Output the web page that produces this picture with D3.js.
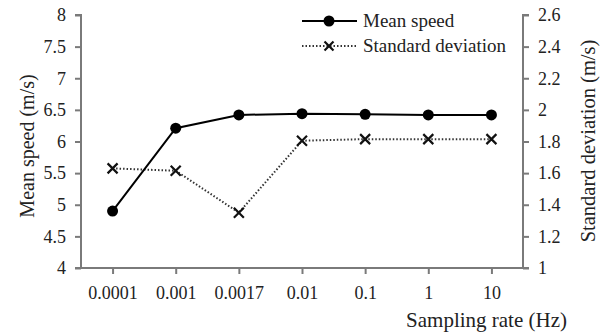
<!DOCTYPE html>
<html>
<head>
<meta charset="utf-8">
<script src="https://cdn.jsdelivr.net/npm/d3@7"></script>
<style>
  html, body { margin: 0; padding: 0; background: #fff; }
  svg { display: block; }
  text { font-family: "Liberation Serif", "Times New Roman", serif; fill: #222; }
</style>
</head>
<body>
<svg id="chart" width="601" height="333"></svg>
<script>
const categories = ["0.0001", "0.001", "0.0017", "0.01", "0.1", "1", "10"];
const meanSpeed = [4.90, 6.21, 6.42, 6.44, 6.43, 6.42, 6.42];
const stdDev = [1.63, 1.615, 1.35, 1.805, 1.815, 1.815, 1.815];
const leftTicks = [4, 4.5, 5, 5.5, 6, 6.5, 7, 7.5, 8];
const rightTicks = [1, 1.2, 1.4, 1.6, 1.8, 2, 2.2, 2.4, 2.6];

const svg = d3.select("#chart");
const L = 81, R = 523, T = 15, B = 268;
const axisColor = "#7a7a7a";

const x = d3.scalePoint().domain(categories).range([L, R]).padding(0.5);
const yL = d3.scaleLinear().domain([4, 8]).range([B, T]);
const yR = d3.scaleLinear().domain([1, 2.6]).range([B, T]);

const gL = svg.append("g").attr("transform", `translate(${L},0)`)
  .call(d3.axisLeft(yL).tickValues(leftTicks).tickSize(6).tickPadding(9).tickFormat(d3.format("")));
const gR = svg.append("g").attr("transform", `translate(${R},0)`)
  .call(d3.axisRight(yR).tickValues(rightTicks).tickSize(6).tickPadding(9).tickFormat(d3.format("")));
const gB = svg.append("g").attr("transform", `translate(0,${B})`)
  .call(d3.axisBottom(x).tickSize(6).tickPadding(12).tickSizeOuter(0));

[gL, gR, gB].forEach(g => {
  g.select(".domain").attr("stroke", axisColor).attr("stroke-width", 2);
  g.selectAll(".tick line").attr("stroke", axisColor).attr("stroke-width", 2);
  g.selectAll(".tick text").attr("font-size", 18).attr("font-family", "Liberation Serif").attr("fill", "#222");
});
gL.select(".domain").attr("d", `M-6,${T}H0V${B}H-6`);
gR.select(".domain").attr("d", `M6,${T}H0V${B}H6`);
gB.select(".domain").attr("d", `M${L},0H${R}`);

const lineSD = d3.line().x((d, i) => x(categories[i])).y(d => yR(d));
svg.append("path").datum(stdDev)
  .attr("d", lineSD).attr("fill", "none")
  .attr("stroke", "#333").attr("stroke-width", 2).attr("stroke-dasharray", "1.5,2");

const lineM = d3.line().x((d, i) => x(categories[i])).y(d => yL(d));
svg.append("path").datum(meanSpeed)
  .attr("d", lineM).attr("fill", "none")
  .attr("stroke", "#000").attr("stroke-width", 2);

const cross = (g, cx, cy, s) => {
  g.append("path")
    .attr("d", `M${cx - s},${cy - s}L${cx + s},${cy + s}M${cx - s},${cy + s}L${cx + s},${cy - s}`)
    .attr("stroke", "#111").attr("stroke-width", 2.2).attr("fill", "none");
};
const mk = svg.append("g");
stdDev.forEach((d, i) => cross(mk, x(categories[i]), yR(d), 5));
svg.append("g").selectAll("circle").data(meanSpeed).join("circle")
  .attr("cx", (d, i) => x(categories[i])).attr("cy", d => yL(d))
  .attr("r", 5.5).attr("fill", "#000");

const lg = svg.append("g");
lg.append("line").attr("x1", 302).attr("x2", 357).attr("y1", 21).attr("y2", 21)
  .attr("stroke", "#000").attr("stroke-width", 2);
lg.append("circle").attr("cx", 329).attr("cy", 21).attr("r", 5.5).attr("fill", "#000");
lg.append("text").attr("x", 363).attr("y", 27).attr("font-size", 19).text("Mean speed");
lg.append("line").attr("x1", 302).attr("x2", 357).attr("y1", 46).attr("y2", 46)
  .attr("stroke", "#333").attr("stroke-width", 2).attr("stroke-dasharray", "1.5,2");
cross(lg, 329, 46, 4.5);
lg.append("text").attr("x", 363).attr("y", 52).attr("font-size", 19).text("Standard deviation");

svg.append("text").attr("transform", "translate(27,146) rotate(-90)")
  .attr("text-anchor", "middle").attr("dominant-baseline", "central")
  .attr("font-size", 20).text("Mean speed (m/s)");
svg.append("text").attr("transform", "translate(588,141) rotate(-90)")
  .attr("text-anchor", "middle").attr("dominant-baseline", "central")
  .attr("font-size", 20.5).text("Standard deviation (m/s)");
svg.append("text").attr("x", 567).attr("y", 327)
  .attr("text-anchor", "end").attr("font-size", 21).text("Sampling rate (Hz)");
</script>
</body>
</html>
